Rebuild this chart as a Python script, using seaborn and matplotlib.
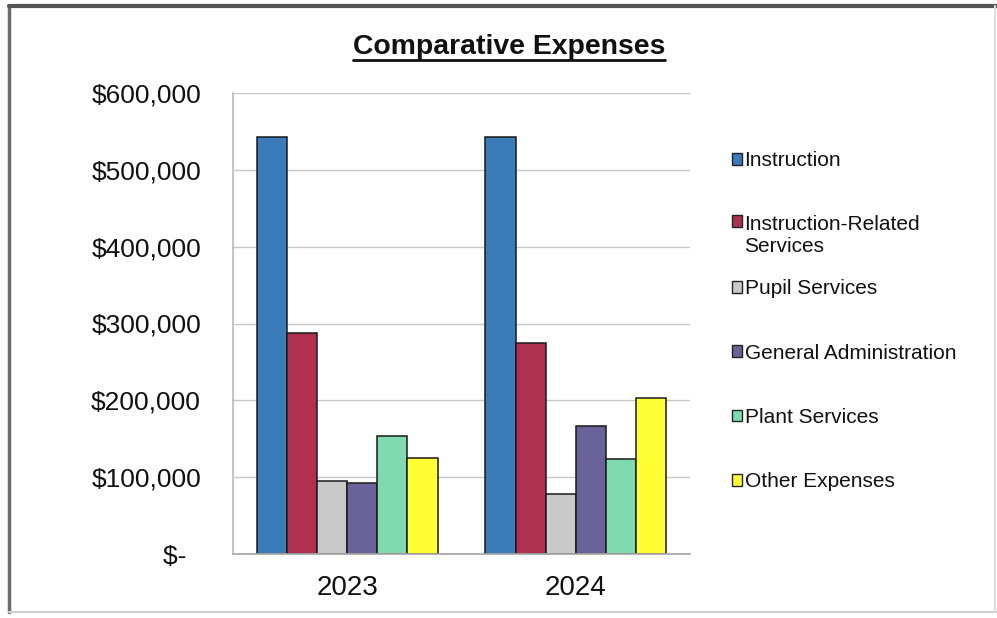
import matplotlib
matplotlib.use("Agg")
import matplotlib.pyplot as plt
from matplotlib.lines import Line2D
from matplotlib.transforms import Bbox
from matplotlib.ticker import FuncFormatter, MultipleLocator
import seaborn as sns
import pandas as pd

years = ["2023", "2024"]
categories = ["Instruction", "Instruction-Related Services", "Pupil Services",
              "General Administration", "Plant Services", "Other Expenses"]
values_2023 = [543000, 288000, 95000, 92000, 154000, 125000]
values_2024 = [543000, 274000, 78000, 166000, 123000, 203000]
colors = ["#3A7BBA", "#B0304F", "#C9C9C9", "#6A6399", "#7FDAAF", "#FFFF33"]
legend_labels = ["Instruction", "Instruction-Related\nServices", "Pupil Services",
                 "General Administration", "Plant Services", "Other Expenses"]

rows = []
for yr, vals in zip(years, [values_2023, values_2024]):
    for cat, v in zip(categories, vals):
        rows.append({"Year": yr, "Category": cat, "Expense": v})
df = pd.DataFrame(rows)

sns.set_theme(style="white")
plt.rcParams["font.family"] = ["Liberation Sans", "DejaVu Sans"]

W, H = 997, 618
fig = plt.figure(figsize=(W / 100, H / 100), dpi=100)
fig.patch.set_facecolor("white")
ax = fig.add_axes([233 / W, 1 - 554 / H, (690 - 233) / W, (554 - 93) / H])

sns.barplot(data=df, x="Year", y="Expense", hue="Category", hue_order=categories,
            palette=colors, width=0.79, gap=0, edgecolor="#1a1a1a", linewidth=1.1,
            saturation=1, ax=ax, legend=True)

ax.set_ylim(0, 600000)
ax.set_xlim(-0.5, 1.5)
ax.yaxis.set_major_locator(MultipleLocator(100000))
ax.yaxis.set_major_formatter(FuncFormatter(lambda v, p: "$-  " if v == 0 else f"${v:,.0f}"))
ax.set_xlabel("")
ax.set_ylabel("")
ax.grid(axis="y", color="#C8C8C8", linewidth=1)
ax.set_axisbelow(True)
for s in ["top", "right"]:
    ax.spines[s].set_visible(False)
ax.spines["left"].set_color("#BDBDBD")
ax.spines["bottom"].set_color("#A8A8A8")
ax.tick_params(axis="y", length=3, color="#BDBDBD", labelsize=19, pad=20, labelcolor="#111111")
ax.tick_params(axis="x", length=0, labelsize=20, pad=15, labelcolor="#111111")

handles, _ = ax.get_legend_handles_labels()
if ax.get_legend() is not None:
    ax.get_legend().remove()
leg = fig.legend(handles, legend_labels, loc="upper left",
                 bbox_to_anchor=(732 / W, 1 - 151 / H), frameon=False,
                 fontsize=15, handlelength=0.5, handleheight=0.5, handletextpad=0.1,
                 labelspacing=2.17, borderpad=0, borderaxespad=0)
for h in leg.legend_handles:
    h.set_edgecolor("#222222")
    h.set_linewidth(1.0)
for t in leg.get_texts():
    t.set_color("#111111")
    t.set_linespacing(1.2)

# keep equal slot spacing: a two-line label occupies the slot of its first line
entries = [hp for col in leg._legend_handle_box.get_children() for hp in col.get_children()]
single_ta = entries[0].get_children()[1]
for hp in entries:
    ta = hp.get_children()[1]
    if "\n" in ta.get_text():
        hp.align = "top"
        orig = ta.get_bbox

        def patched(renderer, orig=orig):
            bb = orig(renderer)
            h1 = single_ta.get_bbox(renderer).height
            return Bbox.from_bounds(bb.x0, bb.y1 - h1, bb.width, h1)

        ta.get_bbox = patched

title = fig.text(509 / W, 1 - 54.5 / H, "Comparative Expenses", ha="center", va="baseline",
                 fontsize=20.4, fontweight="bold", color="#111111")
fig.canvas.draw()
bb = title.get_window_extent()
fig.add_artist(Line2D([bb.x0 / W, bb.x1 / W], [1 - 59.5 / H, 1 - 59.5 / H],
                      transform=fig.transFigure, color="#111111", linewidth=2))

# outer frame
fig.add_artist(Line2D([9 / W, 9 / W], [1 - 612 / H, 1 - 6 / H], transform=fig.transFigure,
                      color="#6b6b6b", linewidth=2.5))
fig.add_artist(Line2D([9 / W, 1], [1 - 6 / H, 1 - 6 / H], transform=fig.transFigure,
                      color="#555555", linewidth=3))
fig.add_artist(Line2D([9 / W, 1], [1 - 612 / H, 1 - 612 / H], transform=fig.transFigure,
                      color="#cfcfcf", linewidth=1.5))
fig.add_artist(Line2D([995 / W, 995 / W], [1 - 612 / H, 1 - 6 / H], transform=fig.transFigure,
                      color="#dddddd", linewidth=1.5))

fig.savefig("out.png", dpi=100, facecolor="white")
